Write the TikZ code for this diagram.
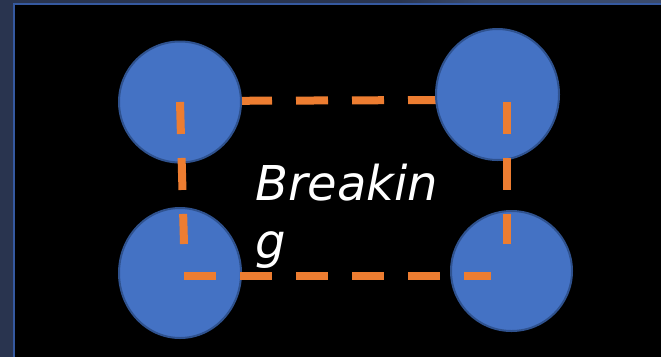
\documentclass[tikz,border=0pt]{standalone}
\usepackage{fontspec}
\setmainfont{DejaVu Sans}
\usetikzlibrary{shapes.geometric}
\definecolor{slide}{HTML}{000000}
\definecolor{band}{HTML}{29344F}
\definecolor{bandlight}{HTML}{3A4A6C}
\definecolor{frame}{HTML}{3559A0}
\definecolor{disc}{HTML}{4472C4}
\definecolor{discedge}{HTML}{2F528F}
\definecolor{link}{HTML}{ED7D31}
\begin{document}
\begin{tikzpicture}[x=1pt,y=-1pt,
  vertex/.style={ellipse,draw=discedge,fill=disc,line width=2pt,inner sep=0pt},
  bond/.style={draw=link,line width=8pt,dash pattern=on 32pt off 24pt},
  label/.style={text=white,font=\fontsize{48}{58}\selectfont\itshape,align=left,inner sep=0pt}]
\useasboundingbox (0,0) rectangle (661,357);
% window frame
\fill[band] (0,0) rectangle (661,357);
\shade[left color=band,right color=bandlight] (400,0) rectangle (480,4);
\fill[bandlight] (480,0) rectangle (661,4);
\fill[slide] (14,4) rectangle (661,357);
\draw[frame,line width=2pt] (14,357) -- (14,4) -- (661,4);
% corners of the dashed loop
\coordinate (p1) at (184,101);
\coordinate (p2) at (441,100);
\coordinate (q1) at (180,102);
\coordinate (q2) at (184,244);
\coordinate (r1) at (507,102);
\coordinate (r2) at (507,244);
\coordinate (s1) at (184,275.5);
\coordinate (s2) at (491,275.5);
% upper link lies beneath the discs
\draw[bond] (p1) -- (p2);
% discs
\node[vertex,minimum width=122pt,minimum height=121pt] (tl) at (180,102) {};
\node[vertex,minimum width=123pt,minimum height=131pt] (tr) at (497.5,94.5) {};
\node[vertex,minimum width=122pt,minimum height=130pt] (bl) at (180,273) {};
\node[vertex,minimum width=121pt,minimum height=120pt] (br) at (511.5,271) {};
% remaining links over the discs
\draw[bond] (q1) -- (q2);
\draw[bond] (r1) -- (r2);
\draw[bond] (s1) -- (s2);
% caption (base anchor sits on the last line)
\node[label,anchor=base west] (cap) at (255,258) {Breakin\\g};
\end{tikzpicture}
\end{document}
